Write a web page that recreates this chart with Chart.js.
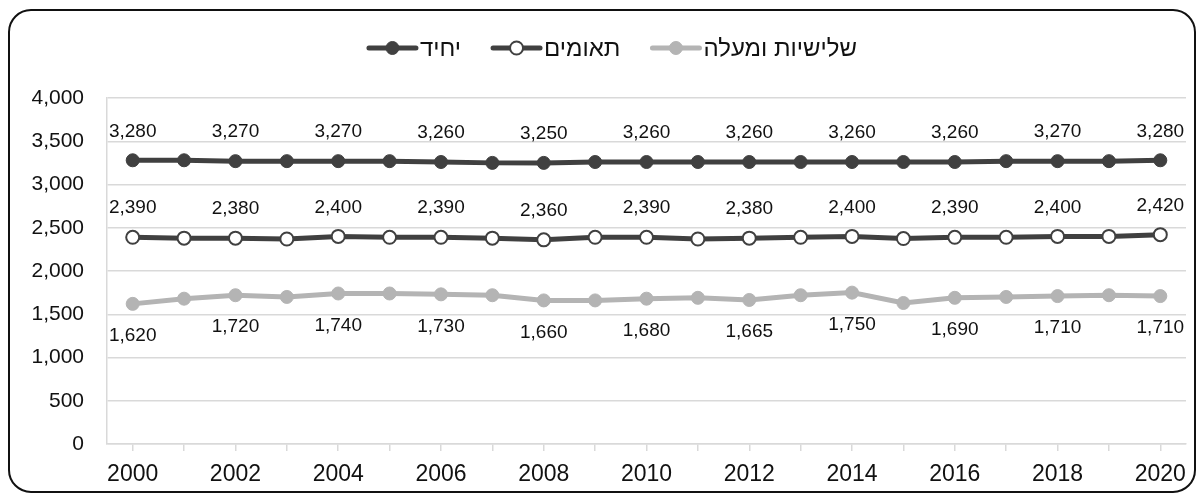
<!DOCTYPE html>
<html>
<head>
<meta charset="utf-8">
<script src="https://cdn.jsdelivr.net/npm/chart.js@4"></script>
<style>
  html, body { margin: 0; padding: 0; background: #fff; }
</style>
</head>
<body>
<canvas id="births" width="1203" height="497"></canvas>
<script>
// years on the x axis
const years = ['2000','2001','2002','2003','2004','2005','2006','2007','2008','2009','2010',
               '2011','2012','2013','2014','2015','2016','2017','2018','2019','2020'];

// series (odd years estimated from the line)
const singles = [3280,3280,3270,3270,3270,3270,3260,3250,3250,3260,3260,
                 3260,3260,3260,3260,3260,3260,3270,3270,3270,3280];
const twins = [2390,2380,2380,2370,2400,2390,2390,2380,2360,2390,2390,
               2370,2380,2390,2400,2375,2390,2390,2400,2400,2420];
const triplets = [1620,1680,1720,1700,1740,1740,1730,1720,1660,1660,1680,
                  1690,1665,1720,1750,1630,1690,1700,1710,1720,1710];

const seriesNames = ['יחיד', 'תאומים', 'שלישיות ומעלה'];

const yTicks = [0, 500, 1000, 1500, 2000, 2500, 3000, 3500, 4000];

const DARK = '#404040';
const LIGHT = '#b4b4b4';
const GRID = '#d9d9d9';
const FONT = '"Liberation Sans", Arial, sans-serif';

// rounded frame round the whole chart
const framePlugin = {
  id: 'frame',
  beforeDraw(chart) {
    const ctx = chart.ctx;
    ctx.save();
    ctx.fillStyle = '#fff';
    ctx.fillRect(0, 0, chart.width, chart.height);
    ctx.beginPath();
    ctx.roundRect(9, 10, 1186, 482, 22);
    ctx.lineWidth = 2;
    ctx.strokeStyle = '#111';
    ctx.stroke();
    ctx.restore();
  }
};

// value labels on every other point, above for the two top lines, below for the bottom one
const valueLabels = {
  id: 'valueLabels',
  afterDatasetsDraw(chart) {
    const ctx = chart.ctx;
    ctx.save();
    ctx.font = '19px ' + FONT;
    ctx.fillStyle = '#111';
    ctx.textAlign = 'center';
    ctx.textBaseline = 'middle';
    chart.data.datasets.forEach((ds, i) => {
      const meta = chart.getDatasetMeta(i);
      const shift = ds.labelShift;
      meta.data.forEach((pt, j) => {
        if (j % 2 !== 0) return;
        ctx.fillText(ds.data[j].toLocaleString('en-US'), pt.x, pt.y + shift);
      });
    });
    ctx.restore();
  }
};

// legend: line with marker, then the name, across the top
const legendPlugin = {
  id: 'lineLegend',
  afterDraw(chart) {
    const ctx = chart.ctx;
    ctx.save();
    ctx.font = '24px ' + FONT;
    const markW = 51, gapText = 2, gapItem = 30;
    const items = chart.data.datasets.map(ds => ({ ds, w: ctx.measureText(ds.label).width }));
    let total = 0;
    items.forEach((it, i) => { total += markW + gapText + it.w + (i < items.length - 1 ? gapItem : 0); });
    let x = 612 - total / 2;
    const y = 48;
    items.forEach(it => {
      const ds = it.ds;
      ctx.strokeStyle = ds.borderColor;
      ctx.lineWidth = 5;
      ctx.lineCap = 'round';
      ctx.beginPath();
      ctx.moveTo(x + 2, y);
      ctx.lineTo(x + markW - 2, y);
      ctx.stroke();
      ctx.beginPath();
      ctx.arc(x + markW / 2, y, 6.5, 0, Math.PI * 2);
      ctx.fillStyle = ds.pointBackgroundColor;
      ctx.fill();
      ctx.lineWidth = ds.pointBorderWidth;
      ctx.strokeStyle = ds.pointBorderColor;
      ctx.stroke();
      ctx.fillStyle = '#111';
      ctx.textAlign = 'left';
      ctx.textBaseline = 'middle';
      ctx.fillText(ds.label, x + markW + gapText, y + 1);
      x += markW + gapText + it.w + gapItem;
    });
    ctx.restore();
  }
};

function lineSet(label, data, color, fill, shift) {
  return {
    label: label,
    data: data,
    borderColor: color,
    borderWidth: 5,
    pointRadius: 6.5,
    pointHoverRadius: 6.5,
    pointBackgroundColor: fill,
    pointBorderColor: color,
    pointBorderWidth: fill === '#ffffff' ? 2 : 1,
    tension: 0,
    labelShift: shift
  };
}

new Chart(document.getElementById('births'), {
  type: 'line',
  data: {
    labels: years,
    datasets: [
      lineSet(seriesNames[0], singles, DARK, DARK, -29),
      lineSet(seriesNames[1], twins, DARK, '#ffffff', -29),
      lineSet(seriesNames[2], triplets, LIGHT, LIGHT, 32)
    ]
  },
  options: {
    responsive: false,
    animation: false,
    events: [],
    layout: { padding: { top: 98, right: 17, bottom: 0, left: 0 } },
    plugins: {
      legend: { display: false },
      tooltip: { enabled: false }
    },
    scales: {
      x: {
        offset: true,
        grid: { drawOnChartArea: false, drawTicks: true, tickLength: 7, color: GRID, lineWidth: 1.5 },
        border: { color: GRID, width: 1.5 },
        ticks: {
          autoSkip: false,
          maxRotation: 0,
          padding: 10,
          color: '#111',
          font: { family: FONT, size: 23 },
          callback: function (v, i) { return i % 2 === 0 ? years[i] : ''; }
        },
        afterFit(scale) { scale.height = 53; }
      },
      y: {
        min: 0,
        max: 4000,
        afterBuildTicks(scale) { scale.ticks = yTicks.map(v => ({ value: v })); },
        grid: { drawTicks: false, color: GRID, lineWidth: 1.5 },
        border: { color: GRID, width: 1.5 },
        ticks: {
          padding: 23,
          color: '#111',
          font: { family: FONT, size: 21 },
          callback: v => v.toLocaleString('en-US')
        },
        afterFit(scale) { scale.width = 107; }
      }
    }
  },
  plugins: [framePlugin, valueLabels, legendPlugin]
});
</script>
</body>
</html>
